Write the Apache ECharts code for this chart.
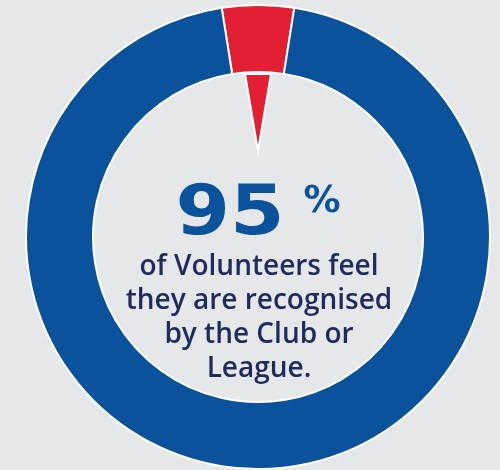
<!DOCTYPE html>
<html>
<head>
<meta charset="utf-8">
<script src="https://cdn.jsdelivr.net/npm/echarts@6/dist/echarts.min.js"></script>
<style>
html,body{margin:0;padding:0;background:#e6e7e9;}
#c{width:500px;height:470px;}
</style>
</head>
<body>
<div id="c"></div>
<script>
var categories = ['Not recognised', 'Recognised'];
var values = [5, 95];
var colors = ['#e31f33', '#0a539c'];
var headline = '95';
var headlineUnit = '%';
var bodyLines = ['of Volunteers feel', 'they are recognised', 'by the Club or', 'League.'];

var chart = echarts.init(document.getElementById('c'));
var total = values.reduce(function (a, b) { return a + b; }, 0);
var startAngle = 90 + (values[0] / total) * 360 / 2;
var cx = 258, cy = 237;

chart.setOption({
  backgroundColor: '#e6e7e9',
  animation: false,
  series: [
    {
      type: 'pie',
      center: [cx, cy],
      radius: [165, 232],
      startAngle: startAngle,
      clockwise: true,
      label: { show: false },
      labelLine: { show: false },
      silent: true,
      itemStyle: { borderColor: '#ffffff', borderWidth: 2 },
      data: categories.map(function (c, i) {
        return { name: c, value: values[i], itemStyle: { color: colors[i] } };
      })
    },
    {
      type: 'gauge',
      center: [cx, cy],
      radius: 232,
      min: 0,
      max: total,
      startAngle: startAngle,
      endAngle: startAngle - 360,
      axisLine: { show: false },
      axisTick: { show: false },
      splitLine: { show: false },
      axisLabel: { show: false },
      anchor: { show: false },
      title: { show: false },
      detail: { show: false },
      pointer: {
        icon: 'path://M0,0 L20,0 L10,60 Z',
        length: 77,
        width: 26,
        offsetCenter: [0, -86],
        itemStyle: { color: colors[0], borderColor: '#ffffff', borderWidth: 2 }
      },
      data: [{ value: values[0] / 2 }]
    }
  ],
  graphic: [
    {
      type: 'text',
      x: 230, y: 216,
      scaleX: 1.12,
      style: {
        text: headline,
        fill: '#0a539c',
        font: 'bold 70px "DejaVu Sans"',
        align: 'center',
        verticalAlign: 'middle'
      }
    },
    {
      type: 'text',
      x: 322, y: 202,
      style: {
        text: headlineUnit,
        fill: '#0a539c',
        font: 'bold 37px "DejaVu Sans"',
        align: 'center',
        verticalAlign: 'middle'
      }
    }
  ].concat(bodyLines.map(function (t, i) {
    return {
      type: 'text',
      x: 259, y: 253 + i * 34,
      style: {
        text: t,
        fill: '#1f2a5f',
        font: '600 28px "Open Sans"',
        align: 'center',
        verticalAlign: 'top'
      }
    };
  }))
});
</script>
</body>
</html>
